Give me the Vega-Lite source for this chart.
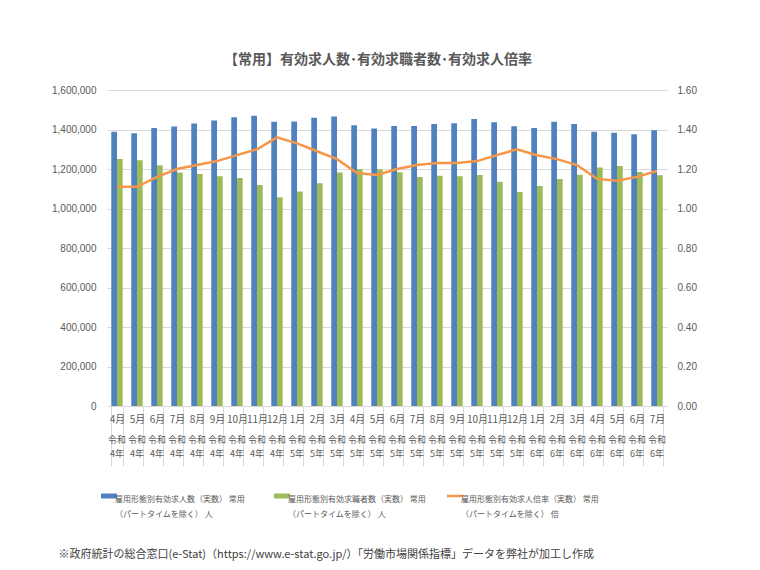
{
  "$schema": "https://vega.github.io/schema/vega-lite/v6.json",
  "width": 560,
  "height": 316,
  "autosize": {"type": "none"},
  "padding": {"left": 107, "top": 90, "right": 93, "bottom": 164},
  "background": "white",
  "config": {"view": {"stroke": null}, "font": "Noto Sans CJK JP"},
  "title": {
    "text": "【常用】有効求人数･有効求職者数･有効求人倍率",
    "fontSize": 14,
    "fontWeight": "bold",
    "color": "#595959",
    "offset": 18,
    "dx": -9,
    "font": "Noto Sans CJK JP"
  },
  "data": {
    "values": [
      {"cat": "4月 令和 4年", "offers": 1388000, "seekers": 1251000, "ratio": 1.11},
      {"cat": "5月 令和 4年", "offers": 1381000, "seekers": 1244000, "ratio": 1.11},
      {"cat": "6月 令和 4年", "offers": 1407000, "seekers": 1219000, "ratio": 1.16},
      {"cat": "7月 令和 4年", "offers": 1415000, "seekers": 1182000, "ratio": 1.20},
      {"cat": "8月 令和 4年", "offers": 1430000, "seekers": 1175000, "ratio": 1.22},
      {"cat": "9月 令和 4年", "offers": 1445000, "seekers": 1163000, "ratio": 1.24},
      {"cat": "10月 令和 4年", "offers": 1462000, "seekers": 1155000, "ratio": 1.27},
      {"cat": "11月 令和 4年", "offers": 1469000, "seekers": 1119000, "ratio": 1.30},
      {"cat": "12月 令和 4年", "offers": 1439000, "seekers": 1057000, "ratio": 1.36},
      {"cat": "1月 令和 5年", "offers": 1441000, "seekers": 1086000, "ratio": 1.33},
      {"cat": "2月 令和 5年", "offers": 1459000, "seekers": 1128000, "ratio": 1.29},
      {"cat": "3月 令和 5年", "offers": 1466000, "seekers": 1182000, "ratio": 1.25},
      {"cat": "4月 令和 5年", "offers": 1422000, "seekers": 1199000, "ratio": 1.18},
      {"cat": "5月 令和 5年", "offers": 1405000, "seekers": 1199000, "ratio": 1.17},
      {"cat": "6月 令和 5年", "offers": 1418000, "seekers": 1183000, "ratio": 1.20},
      {"cat": "7月 令和 5年", "offers": 1418000, "seekers": 1159000, "ratio": 1.22},
      {"cat": "8月 令和 5年", "offers": 1428000, "seekers": 1166000, "ratio": 1.23},
      {"cat": "9月 令和 5年", "offers": 1432000, "seekers": 1163000, "ratio": 1.23},
      {"cat": "10月 令和 5年", "offers": 1453000, "seekers": 1170000, "ratio": 1.24},
      {"cat": "11月 令和 5年", "offers": 1437000, "seekers": 1135000, "ratio": 1.27},
      {"cat": "12月 令和 5年", "offers": 1417000, "seekers": 1084000, "ratio": 1.30},
      {"cat": "1月 令和 6年", "offers": 1408000, "seekers": 1114000, "ratio": 1.27},
      {"cat": "2月 令和 6年", "offers": 1439000, "seekers": 1149000, "ratio": 1.25},
      {"cat": "3月 令和 6年", "offers": 1428000, "seekers": 1171000, "ratio": 1.22},
      {"cat": "4月 令和 6年", "offers": 1388000, "seekers": 1208000, "ratio": 1.15},
      {"cat": "5月 令和 6年", "offers": 1383000, "seekers": 1215000, "ratio": 1.14},
      {"cat": "6月 令和 6年", "offers": 1376000, "seekers": 1185000, "ratio": 1.16},
      {"cat": "7月 令和 6年", "offers": 1396000, "seekers": 1168000, "ratio": 1.19}
    ]
  },
  "layer": [
    {
      "transform": [{"fold": ["offers", "seekers"], "as": ["series", "val"]}],
      "mark": {"type": "bar"},
      "encoding": {
        "x": {
          "field": "cat",
          "type": "nominal",
          "sort": null,
          "scale": {"paddingInner": 0.43, "paddingOuter": 0.215},
          "axis": {
            "orient": "bottom",
            "title": "※政府統計の総合窓口(e-Stat)（https://www.e-stat.go.jp/）「労働市場関係指標」データを弊社が加工し作成",
            "titleAnchor": "start",
            "titleAlign": "left",
            "titleX": -49,
            "titleY": 151,
            "titleBaseline": "alphabetic",
            "titleFontSize": 11,
            "titleFontWeight": "normal",
            "titleColor": "#404040",
            "titleFont": "Noto Sans CJK JP",
            "labelAngle": 0,
            "labelExpr": "isString(datum.value) ? split(datum.value, ' ')[0] : ''",
            "labelFontSize": 10,
            "labelFont": "Noto Sans CJK JP",
            "labelColor": "#595959",
            "labelBaseline": "top",
            "labelPadding": -52,
            "labelOverlap": false,
            "tickBand": "extent",
            "tickSize": 60,
            "tickColor": "#D9D9D9",
            "domainColor": "#D9D9D9"
          }
        },
        "xOffset": {"field": "series", "type": "nominal", "sort": ["offers", "seekers"], "scale": {"paddingInner": 0, "paddingOuter": 0}},
        "y": {
          "field": "val",
          "type": "quantitative",
          "scale": {"domain": [0, 1600000], "nice": false},
          "axis": {
            "title": null,
            "format": ",.0f",
            "values": [0, 200000, 400000, 600000, 800000, 1000000, 1200000, 1400000, 1600000],
            "domain": false,
            "ticks": false,
            "labelPadding": 11,
            "labelColor": "#595959",
            "labelFontSize": 10,
            "labelFont": "Liberation Sans",
            "gridColor": "#D9D9D9"
          }
        },
        "color": {
          "field": "series",
          "type": "nominal",
          "scale": {"domain": ["offers", "seekers", "ratio"], "range": ["#4F81BD", "#9BBB59", "#F79646"]},
          "legend": {
            "title": null,
            "orient": "none",
            "legendX": -2,
            "legendY": 402,
            "direction": "horizontal",
            "columns": 3,
            "gridAlign": "all",
            "columnPadding": 11,
            "symbolType": "stroke",
            "symbolSize": 256,
            "symbolStrokeWidth": 5,
            "labelFontSize": 8,
            "labelFont": "Noto Sans CJK JP",
            "labelColor": "#595959",
            "labelLimit": 300,
            "labelOffset": 2,
            "labelBaseline": "top",
            "labelExpr": "datum.value == 'offers' ? ['雇用形態別有効求人数（実数） 常用', '（パートタイムを除く） 人'] : datum.value == 'seekers' ? ['雇用形態別有効求職者数（実数） 常用', '（パートタイムを除く） 人'] : ['雇用形態別有効求人倍率（実数） 常用', '（パートタイムを除く） 倍']",
            "encode": {
              "labels": {"update": {"lineHeight": {"value": 15}}},
              "symbols": {"update": {"stroke": {"scale": "color", "field": "value"}, "strokeWidth": {"signal": "datum.value === 'ratio' ? 2.5 : 5"}}}
            }
          }
        }
      }
    },
    {
      "mark": {"type": "line", "color": "#F79646", "strokeWidth": 2.5},
      "encoding": {
        "x": {
          "field": "cat",
          "type": "nominal",
          "sort": null,
          "axis": {
            "orient": "bottom",
            "title": null,
            "labelAngle": 0,
            "labelExpr": "isString(datum.value) ? [split(datum.value, ' ')[1], split(datum.value, ' ')[2]] : ''",
            "labelFontSize": 9,
            "labelFont": "Noto Sans CJK JP",
            "labelColor": "#595959",
            "labelLineHeight": 14,
            "labelBaseline": "top",
            "labelPadding": 29,
            "labelOverlap": false,
            "ticks": false,
            "domain": false
          }
        },
        "y": {
          "field": "ratio",
          "type": "quantitative",
          "scale": {"domain": [0, 1.6], "nice": false},
          "axis": {
            "orient": "right",
            "title": null,
            "format": ".2f",
            "values": [0, 0.2, 0.4, 0.6, 0.8, 1.0, 1.2, 1.4, 1.6],
            "domain": false,
            "ticks": false,
            "grid": false,
            "labelPadding": 10,
            "labelColor": "#595959",
            "labelFontSize": 10,
            "labelFont": "Liberation Sans"
          }
        }
      }
    }
  ],
  "resolve": {"scale": {"y": "independent"}, "axis": {"x": "independent"}}
}
